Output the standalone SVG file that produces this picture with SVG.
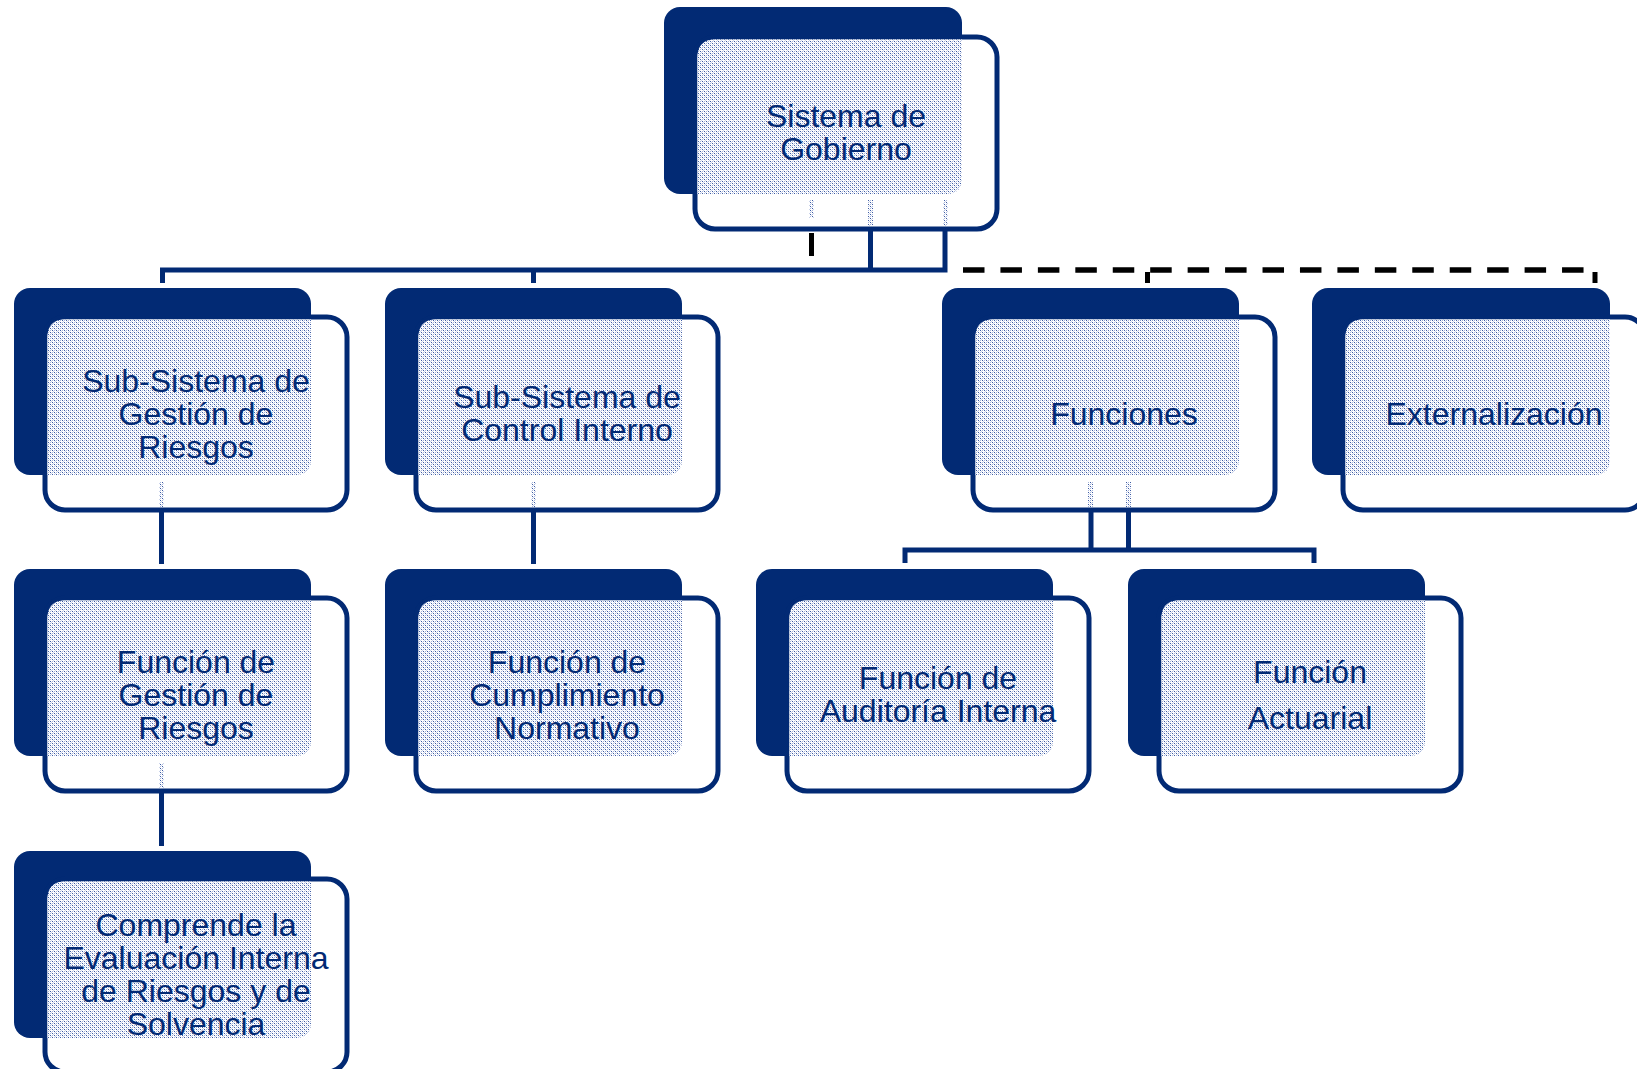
<svg xmlns="http://www.w3.org/2000/svg" width="1637" height="1069" viewBox="0 0 1637 1069">
  <defs>
    <pattern id="dots" patternUnits="userSpaceOnUse" width="4" height="4">
      <rect width="4" height="4" fill="#ffffff"/>
      <rect x="0" y="0" width="1" height="1" fill="#3d5ba3"/>
      <rect x="2" y="2" width="1" height="1" fill="#3d5ba3"/>
      <rect x="2" y="0" width="1" height="1" fill="#a8b6da"/>
      <rect x="0" y="2" width="1" height="1" fill="#a8b6da"/>
      <rect x="1" y="1" width="1" height="1" fill="#c9d2ea"/>
      <rect x="3" y="3" width="1" height="1" fill="#c9d2ea"/>
    </pattern>
  </defs>
  <style>
    .dark { fill: #022a74; }
    .box { fill: #ffffff; stroke: #022a74; stroke-width: 5; }
    .pat { fill: url(#dots); }
    .lbl { font-family: "Liberation Sans", Arial, sans-serif; font-size: 32px; fill: #022a74; text-anchor: middle; }
    .navy { fill: none; stroke: #022a74; stroke-width: 5; stroke-linejoin: miter; stroke-linecap: butt; }
    .dash { fill: none; stroke: #000000; stroke-width: 5.5; stroke-dasharray: 21.5 15.94; }
    .blk { fill: none; stroke: #000000; stroke-width: 5; }
    .ghost { fill: url(#dots); }
  </style>

  <rect width="1637" height="1069" fill="#ffffff"/>

  <g id="connectors">
    <path class="navy" d="M162.5,283 V270 H945 V229"/>
    <path class="navy" d="M870.5,229 V270"/>
    <path class="navy" d="M533.5,270 V283"/>
    <path class="blk" d="M811.5,233 V256"/>
    <path class="dash" d="M963,270 H1584"/>
    <path class="blk" d="M1147.5,272 V283"/>
    <path class="blk" d="M1595,272 V283"/>
    <path class="navy" d="M161.5,510 V564"/>
    <path class="navy" d="M161.5,791 V846"/>
    <path class="navy" d="M533.5,510 V564"/>
    <path class="navy" d="M1091,510 V550"/>
    <path class="navy" d="M1128.5,510 V550"/>
    <path class="navy" d="M905,563 V550 H1314 V563"/>
  </g>

  <g id="n-sistema-gobierno" transform="translate(664,7)">
    <rect class="dark" x="0" y="0" width="298" height="187" rx="16"/>
    <rect class="box" x="31" y="30" width="302" height="192" rx="20"/>
    <path class="pat" d="M33.5,50 Q33.5,32.5 51,32.5 H298 V171 Q298,187 282,187 H33.5 Z"/>
    <text class="lbl"><tspan x="182" y="119.5">Sistema de</tspan><tspan x="182" y="152.5">Gobierno</tspan></text>
  </g>

  <g id="n-subsistema-riesgos" transform="translate(14,288)">
    <rect class="dark" x="0" y="0" width="297" height="187" rx="16"/>
    <rect class="box" x="31" y="29" width="302" height="193" rx="20"/>
    <path class="pat" d="M33.5,49 Q33.5,31.5 51,31.5 H297 V171 Q297,187 281,187 H33.5 Z"/>
    <text class="lbl"><tspan x="182" y="103.5">Sub-Sistema de</tspan><tspan x="182" y="136.5">Gestión de</tspan><tspan x="182" y="169.5">Riesgos</tspan></text>
  </g>

  <g id="n-subsistema-control" transform="translate(385,288)">
    <rect class="dark" x="0" y="0" width="297" height="187" rx="16"/>
    <rect class="box" x="31" y="29" width="302" height="193" rx="20"/>
    <path class="pat" d="M33.5,49 Q33.5,31.5 51,31.5 H297 V171 Q297,187 281,187 H33.5 Z"/>
    <text class="lbl"><tspan x="182" y="120">Sub-Sistema de</tspan><tspan x="182" y="153">Control Interno</tspan></text>
  </g>

  <g id="n-funciones" transform="translate(942,288)">
    <rect class="dark" x="0" y="0" width="297" height="187" rx="16"/>
    <rect class="box" x="31" y="29" width="302" height="193" rx="20"/>
    <path class="pat" d="M33.5,49 Q33.5,31.5 51,31.5 H297 V171 Q297,187 281,187 H33.5 Z"/>
    <text class="lbl" x="182" y="136.5">Funciones</text>
  </g>

  <g id="n-externalizacion" transform="translate(1312,288)">
    <rect class="dark" x="0" y="0" width="298" height="187" rx="16"/>
    <rect class="box" x="31" y="29" width="302" height="193" rx="20"/>
    <path class="pat" d="M33.5,49 Q33.5,31.5 51,31.5 H298 V171 Q298,187 282,187 H33.5 Z"/>
    <text class="lbl" x="182" y="136.5">Externalización</text>
  </g>

  <g id="n-funcion-riesgos" transform="translate(14,569)">
    <rect class="dark" x="0" y="0" width="297" height="187" rx="16"/>
    <rect class="box" x="31" y="29" width="302" height="193" rx="20"/>
    <path class="pat" d="M33.5,49 Q33.5,31.5 51,31.5 H297 V171 Q297,187 281,187 H33.5 Z"/>
    <text class="lbl"><tspan x="182" y="103.5">Función de</tspan><tspan x="182" y="136.5">Gestión de</tspan><tspan x="182" y="169.5">Riesgos</tspan></text>
  </g>

  <g id="n-funcion-cumplimiento" transform="translate(385,569)">
    <rect class="dark" x="0" y="0" width="297" height="187" rx="16"/>
    <rect class="box" x="31" y="29" width="302" height="193" rx="20"/>
    <path class="pat" d="M33.5,49 Q33.5,31.5 51,31.5 H297 V171 Q297,187 281,187 H33.5 Z"/>
    <text class="lbl"><tspan x="182" y="103.5">Función de</tspan><tspan x="182" y="136.5">Cumplimiento</tspan><tspan x="182" y="169.5">Normativo</tspan></text>
  </g>

  <g id="n-funcion-auditoria" transform="translate(756,569)">
    <rect class="dark" x="0" y="0" width="297" height="187" rx="16"/>
    <rect class="box" x="31" y="29" width="302" height="193" rx="20"/>
    <path class="pat" d="M33.5,49 Q33.5,31.5 51,31.5 H297 V171 Q297,187 281,187 H33.5 Z"/>
    <text class="lbl"><tspan x="182" y="120">Función de</tspan><tspan x="182" y="153">Auditoría Interna</tspan></text>
  </g>

  <g id="n-funcion-actuarial" transform="translate(1128,569)">
    <rect class="dark" x="0" y="0" width="297" height="187" rx="16"/>
    <rect class="box" x="31" y="29" width="302" height="193" rx="20"/>
    <path class="pat" d="M33.5,49 Q33.5,31.5 51,31.5 H297 V171 Q297,187 281,187 H33.5 Z"/>
    <text class="lbl"><tspan x="182" y="113.5">Función</tspan><tspan x="182" y="159.5">Actuarial</tspan></text>
  </g>

  <g id="n-evaluacion-interna" transform="translate(14,851)">
    <rect class="dark" x="0" y="0" width="297" height="187" rx="16"/>
    <rect class="box" x="31" y="28" width="302" height="193" rx="20"/>
    <path class="pat" d="M33.5,48 Q33.5,30.5 51,30.5 H297 V171 Q297,187 281,187 H33.5 Z"/>
    <text class="lbl"><tspan x="182" y="85">Comprende la</tspan><tspan x="182" y="118">Evaluación Interna</tspan><tspan x="182" y="151">de Riesgos y de</tspan><tspan x="182" y="184">Solvencia</tspan></text>
  </g>

  <g id="connector-ghosts">
    <rect class="ghost" x="809" y="200" width="5" height="18"/>
    <rect class="ghost" x="868" y="200" width="5" height="26"/>
    <rect class="ghost" x="943" y="200" width="5" height="26"/>
    <rect class="ghost" x="159" y="482" width="5" height="25"/>
    <rect class="ghost" x="531" y="482" width="5" height="25"/>
    <rect class="ghost" x="1088" y="482" width="5" height="25"/>
    <rect class="ghost" x="1126" y="482" width="5" height="25"/>
    <rect class="ghost" x="159" y="763" width="5" height="25"/>
  </g>
</svg>
